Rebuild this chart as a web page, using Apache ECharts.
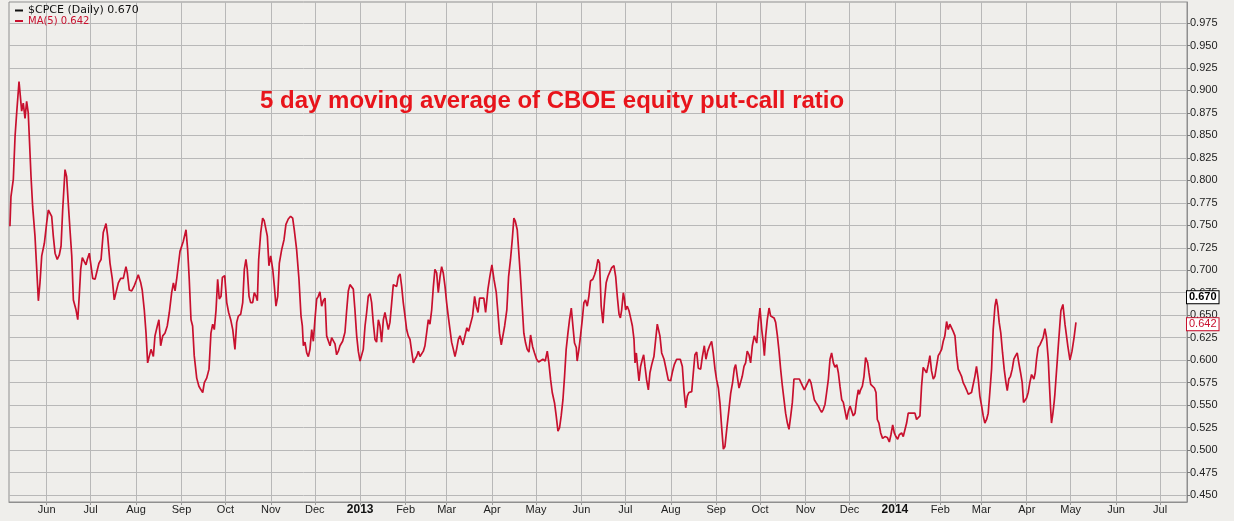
<!DOCTYPE html>
<html>
<head>
<meta charset="utf-8">
<title>$CPCE MA(5)</title>
<script src="https://cdn.jsdelivr.net/npm/echarts@6.0.0/dist/echarts.min.js"></script>
<style>
  html, body { margin: 0; padding: 0; background: #efeeeb; }
  #chart { width: 1234px; height: 521px; }
</style>
</head>
<body>
<div id="chart"></div>
<script>
// day numbers count calendar days from 1 May 2012
var baseDay = new Date(2012, 4, 1).getTime();
var DAY = 86400000;

var dayNo = [
  5.9,6.6,8.2,9.4,10.5,12.1,13.2,13.9,15.0,16.2,17.3,18.4,19.1,20.3,21.4,23.0,24.2,25.3,26.4,27.6,
  29.4,31.0,32.1,33.2,34.4,35.5,36.7,38.2,39.6,40.8,41.9,43.5,44.6,45.7,46.9,48.1,49.2,51.0,52.2,53.2,
  54.2,55.3,56.5,57.8,58.7,60.1,61.0,62.4,64.0,65.1,66.7,68.1,69.6,71.5,72.6,74.2,75.8,77.1,78.3,79.9,
  81.5,83.3,85.1,86.0,87.4,89.0,90.6,92.0,93.5,95.2,96.2,97.6,98.8,99.9,102.2,103.8,
  104.9,106.5,107.6,108.8,110.2,111.7,113.3,114.7,116.3,117.5,118.6,119.7,120.8,122.0,123.1,124.2,126.1,127.2,128.3,129.5,
  130.6,131.7,133.4,134.9,136.3,137.5,138.6,140.2,141.8,143.1,144.3,145.4,146.6,147.7,148.8,150.0,150.9,152.5,153.9,155.2,
  156.6,158.0,159.5,160.7,161.8,163.4,164.8,165.9,167.0,167.9,169.1,170.2,171.6,172.7,173.9,174.8,175.7,177.1,178.4,179.5,
  180.7,181.6,182.7,183.9,185.3,186.4,187.5,188.7,189.8,191.4,193.0,194.3,195.9,197.5,198.9,200.0,201.6,203.2,204.6,
  205.5,206.2,207.3,208.5,209.6,210.7,211.9,213.0,214.1,215.3,216.4,217.5,218.7,219.8,221.0,222.1,223.2,224.4,225.5,226.7,
  227.8,228.9,230.1,231.2,233.0,234.6,235.8,236.9,238.0,239.2,240.3,241.4,242.6,243.7,244.9,246.0,247.1,248.3,249.4,250.5,
  251.7,252.8,253.9,255.1,256.2,257.4,258.5,259.6,260.8,261.9,263.1,264.2,265.3,266.5,267.6,268.7,269.9,271.0,272.2,273.3,
  274.4,275.6,276.7,277.8,279.0,280.1,281.3,282.4,283.5,284.7,285.8,286.9,288.1,289.2,290.4,291.5,292.6,293.8,294.9,296.0,
  297.2,298.3,299.5,300.6,301.7,302.9,304.0,305.1,306.3,307.4,308.6,309.7,310.8,312.0,313.1,
  314.0,315.1,316.3,317.8,319.0,320.3,321.7,323.1,324.2,325.4,326.5,327.6,329.4,330.6,332.2,333.5,334.9,336.3,337.9,339.0,
  340.1,341.3,342.4,343.6,345.1,346.3,347.6,348.8,349.9,350.8,352.2,353.3,354.5,355.6,356.7,357.9,359.0,360.2,361.3,362.7,
  364.0,365.4,366.8,368.1,369.7,371.3,372.7,373.8,375.0,376.1,377.7,378.8,380.0,381.1,382.2,383.4,384.5,385.6,386.8,387.9,
  389.1,390.2,391.3,392.5,393.1,394.3,395.4,396.6,397.7,398.8,400.0,401.1,402.2,403.8,405.0,406.1,407.3,408.4,409.5,410.7,
  411.8,412.9,414.1,415.2,
  416.7,418.2,419.4,420.5,421.7,422.6,423.5,424.6,425.3,426.2,427.3,428.5,429.6,430.8,431.9,432.6,433.5,434.2,435.3,436.4,
  437.6,438.5,439.4,440.5,441.7,442.8,444.0,445.5,446.7,447.8,448.5,449.6,450.8,452.4,453.7,455.3,456.9,458.3,459.4,461.0,
  462.1,463.5,464.9,466.0,467.2,468.3,469.4,471.3,472.4,473.5,474.7,475.8,477.4,478.5,479.9,481.0,482.2,483.5,484.9,486.0,
  487.2,488.3,489.5,490.6,491.7,492.9,494.0,495.4,496.7,497.9,499.2,500.4,501.3,502.4,503.6,504.7,505.8,507.0,508.1,509.2,
  510.4,511.5,512.7,514.0,
  515.7,516.8,517.9,519.1,520.2,520.9,521.8,522.9,524.1,525.2,526.3,527.5,528.6,529.8,530.9,532.0,533.2,534.3,535.4,536.6,
  537.7,538.9,540.0,541.1,542.5,543.6,544.8,545.9,547.0,548.2,549.3,550.5,551.6,552.7,553.9,555.0,556.1,557.7,558.9,560.0,
  561.1,562.3,563.4,564.6,565.7,566.8,568.0,569.1,570.3,571.4,572.5,573.7,574.8,575.9,577.1,578.2,579.4,580.5,581.6,582.8,
  583.9,585.0,585.7,586.6,587.8,588.9,590.0,590.7,591.4,592.3,593.5,594.8,596.0,597.1,598.0,599.1,600.3,601.6,603.2,604.8,
  606.2,607.3,608.5,609.6,610.7,611.9,613.0,
  614.6,615.7,616.8,618.0,619.1,620.2,621.4,622.5,623.7,624.8,625.9,627.1,628.2,629.3,630.5,631.6,632.8,633.9,635.0,636.2,
  637.3,638.4,639.6,640.7,641.9,643.0,644.1,645.3,646.4,647.5,648.7,649.8,651.0,652.1,653.2,654.4,655.5,656.6,657.8,658.9,
  660.1,661.2,662.3,663.5,664.6,665.7,666.9,668.0,669.2,670.3,671.4,672.6,673.7,674.8,676.0,677.1,678.3,679.2,680.1,681.2,
  682.3,683.5,684.6,685.8,686.7,687.8,688.9,690.1,691.2,692.4,693.5,694.6,695.8,696.9,697.8,698.7,699.9,701.0,702.1,703.3,
  704.0,704.9,705.8,706.7,707.8,709.0,710.1,711.2,712.4,713.5,714.7,715.3,716.2,716.9,717.8,718.7,719.2,
  721.3,723.3,724.7,726.1,728.1,729.5,730.9,732.3,733.6
];

var ma5 = [
  .749,.782,.801,.849,.875,.910,.890,.877,.886,.869,.888,.875,.849,.804,.771,.738,.701,.666,.686,.716,
  .730,.753,.767,.769,.760,.738,.719,.712,.717,.727,.767,.812,.804,.775,.745,.716,.667,.656,.645,.671,
  .701,.714,.712,.706,.712,.719,.708,.691,.690,.691,.708,.712,.742,.752,.738,.708,.690,.667,.666,.686,
  .691,.691,.704,.697,.678,.677,.682,.688,.695,.686,.678,.656,.630,.597,.612,.604,
  .627,.638,.645,.616,.627,.630,.638,.653,.675,.686,.677,.690,.705,.721,.723,.732,.745,.723,.690,.645,
  .638,.605,.580,.571,.567,.564,.575,.580,.590,.630,.640,.634,.656,.690,.668,.671,.692,.694,.664,.653,
  .645,.634,.612,.642,.649,.651,.664,.701,.712,.701,.671,.664,.664,.675,.671,.666,.712,.742,.758,.755,
  .757,.738,.705,.716,.701,.682,.660,.671,.708,.723,.734,.751,.757,.760,.758,.745,.723,.690,.649,
  .638,.616,.620,.608,.604,.612,.634,.621,.645,.668,.671,.676,.660,.666,.669,.627,.625,.616,.625,.623,
  .618,.606,.610,.616,.621,.631,.656,.677,.684,.684,.679,.656,.627,.610,.599,.597,.612,.638,.653,.671,
  .674,.664,.642,.623,.620,.645,.638,.620,.645,.653,.655,.634,.642,.664,.684,.684,.682,.693,.696,.682,
  .664,.649,.634,.627,.623,.610,.597,.601,.604,.610,.604,.606,.610,.616,.631,.645,.640,.656,.681,.701,
  .697,.675,.693,.704,.697,.682,.664,.649,.634,.620,.612,.604,.612,.623,.627,
  .628,.617,.617,.636,.632,.634,.649,.671,.660,.653,.669,.667,.669,.653,.679,.693,.706,.690,.675,.653,
  .630,.617,.617,.638,.656,.693,.712,.734,.758,.755,.745,.719,.690,.660,.630,.619,.612,.609,.628,.615,
  .608,.601,.598,.597,.601,.599,.610,.597,.578,.564,.552,.538,.521,.525,.538,.556,.582,.612,.630,.645,
  .658,.638,.619,.614,.599,.612,.627,.645,.664,.667,.660,.671,.688,.690,.695,.701,.712,.708,.660,.641,
  .667,.686,.693,.695,
  .703,.705,.693,.671,.651,.647,.656,.675,.669,.656,.660,.655,.647,.638,.623,.597,.608,.595,.577,.593,
  .601,.606,.593,.578,.567,.586,.595,.604,.623,.640,.642,.627,.608,.601,.591,.578,.577,.588,.595,.601,
  .603,.601,.593,.567,.547,.560,.564,.565,.586,.606,.609,.591,.590,.603,.616,.601,.610,.616,.621,.608,
  .590,.578,.569,.552,.526,.501,.504,.526,.545,.563,.575,.591,.595,.582,.569,.569,.582,.593,.597,.610,
  .606,.597,.616,.627,
  .619,.642,.658,.634,.619,.605,.627,.645,.658,.649,.647,.647,.642,.627,.610,.590,.571,.556,.541,.530,
  .523,.538,.553,.579,.579,.577,.579,.575,.571,.567,.569,.575,.579,.575,.573,.556,.553,.549,.545,.542,
  .545,.551,.564,.579,.601,.608,.597,.592,.595,.586,.571,.556,.553,.551,.534,.543,.549,.551,.538,.541,
  .556,.567,.562,.567,.571,.582,.603,.605,.597,.586,.573,.571,.569,.564,.534,.530,.519,.513,.515,.514,
  .509,.517,.528,.519,.515,.512,.517,
  .519,.515,.517,.530,.541,.540,.541,.543,.541,.534,.534,.538,.571,.592,.592,.586,.595,.605,.588,.579,
  .582,.593,.605,.608,.612,.621,.627,.643,.634,.640,.638,.632,.627,.605,.590,.586,.582,.575,.571,.567,
  .562,.564,.564,.566,.582,.593,.579,.560,.549,.538,.530,.534,.541,.564,.590,.634,.660,.668,.660,.642,
  .630,.608,.590,.575,.566,.579,.582,.590,.601,.605,.608,.597,.586,.575,.553,.554,.558,.564,.575,.584,
  .586,.579,.586,.601,.614,.617,.619,.625,.635,.625,.601,.579,.549,.530,.540,.553,.562,
  .610,.655,.662,.640,.615,.600,.610,.625,.642
];

var yTicks = [0.450,0.475,0.500,0.525,0.550,0.575,0.600,0.625,0.650,0.675,0.700,0.725,
              0.750,0.775,0.800,0.825,0.850,0.875,0.900,0.925,0.950,0.975];

var monthStarts = [
  [2012,6],[2012,7],[2012,8],[2012,9],[2012,10],[2012,11],[2012,12],
  [2013,1],[2013,2],[2013,3],[2013,4],[2013,5],[2013,6],[2013,7],[2013,8],[2013,9],[2013,10],[2013,11],[2013,12],
  [2014,1],[2014,2],[2014,3],[2014,4],[2014,5],[2014,6],[2014,7]
];
var monthLabels = ['Jun','Jul','Aug','Sep','Oct','Nov','Dec',
  '2013','Feb','Mar','Apr','May','Jun','Jul','Aug','Sep','Oct','Nov','Dec',
  '2014','Feb','Mar','Apr','May','Jun','Jul'];

var lastClose = 0.670;
var lastMa = 0.642;

if (dayNo.length !== ma5.length) console.warn('length mismatch', dayNo.length, ma5.length);

var lineData = dayNo.map(function (d, i) { return [baseDay + d * DAY, ma5[i]]; });
var monthTimes = monthStarts.map(function (m) { return new Date(m[0], m[1] - 1, 1).getTime(); });

var chart = echarts.init(document.getElementById('chart'), null, { renderer: 'canvas' });

function priceTag(value, color, bold) {
  return {
    yAxis: value,
    label: {
      show: true, position: 'end', distance: 0,
      formatter: value.toFixed(3),
      fontSize: 11, fontWeight: bold ? 'bold' : 'normal', color: color,
      fontFamily: 'Liberation Sans, Arial, sans-serif',
      backgroundColor: '#fff', borderColor: color, borderWidth: 1,
      padding: [1, 2, 0, 2]
    }
  };
}

var option = {
  animation: false,
  backgroundColor: '#efeeeb',
  textStyle: { fontFamily: 'Liberation Sans, Arial, sans-serif' },
  title: {
    text: '5 day moving average of CBOE equity put-call ratio',
    left: 255,
    top: 84,
    textStyle: {
      color: '#e8141b',
      fontSize: 24,
      fontWeight: 'bold',
      fontFamily: 'Liberation Sans, Arial, sans-serif'
    }
  },
  legend: {
    left: 10,
    top: 0,
    orient: 'vertical',
    itemGap: 0,
    itemWidth: 8,
    itemHeight: 2,
    icon: 'rect',
    selectedMode: false,
    textStyle: { fontFamily: 'DejaVu Sans', fontSize: 11, color: '#111' },
    data: [
      { name: '$CPCE (Daily) 0.670', textStyle: { color: '#111', fontSize: 11 } },
      { name: 'MA(5) 0.642', textStyle: { color: '#c8102e', fontSize: 10 } }
    ]
  },
  grid: {
    left: 9,
    right: 47,
    top: 2,
    bottom: 19,
    show: true,
    backgroundColor: '#efeeeb',
    borderColor: '#8f8f8f',
    borderWidth: 1
  },
  xAxis: {
    // timestamps on a linear axis, so the month ticks can be placed by hand
    type: 'value',
    min: baseDay + 5.26 * DAY,
    max: baseDay + 809.4 * DAY,
    axisLine: { lineStyle: { color: '#8f8f8f' } },
    axisTick: { show: true, length: 3, customValues: monthTimes, lineStyle: { color: '#9a9a9a' } },
    axisLabel: {
      customValues: monthTimes,
      margin: 2,
      fontSize: 11,
      color: '#222',
      formatter: function (v) {
        var i = monthTimes.indexOf(v);
        var txt = i >= 0 ? monthLabels[i] : '';
        return /^\d{4}$/.test(txt) ? '{yr|' + txt + '}' : txt;
      },
      rich: { yr: { fontWeight: 'bold', fontSize: 12, color: '#111' } }
    },
    splitLine: { show: true, lineStyle: { color: '#b8b8b8', width: 1 } }
  },
  yAxis: {
    type: 'value',
    position: 'right',
    min: 0.4422,
    max: 0.9984,
    axisLine: { show: true, lineStyle: { color: '#8f8f8f' } },
    axisTick: { show: true, length: 3, customValues: yTicks, lineStyle: { color: '#777' } },
    axisLabel: {
      customValues: yTicks,
      margin: 3,
      fontSize: 11,
      color: '#222',
      formatter: function (v) { return v.toFixed(3); }
    },
    splitLine: { show: true, lineStyle: { color: '#b8b8b8', width: 1 } }
  },
  series: [
    {
      name: '$CPCE (Daily) 0.670',
      type: 'line',
      color: '#111',
      data: []
    },
    {
      name: 'MA(5) 0.642',
      type: 'line',
      color: '#c8102e',
      data: lineData,
      showSymbol: false,
      symbol: 'none',
      lineStyle: { color: '#c8102e', width: 1.7 },
      z: 3,
      markLine: {
        silent: true,
        symbol: ['none', 'none'],
        lineStyle: { color: 'rgba(0,0,0,0)', width: 1, type: 'solid' },
        data: [priceTag(lastClose, '#000', true), priceTag(lastMa, '#c8102e', false)]
      }
    }
  ]
};

chart.setOption(option);
</script>
</body>
</html>
